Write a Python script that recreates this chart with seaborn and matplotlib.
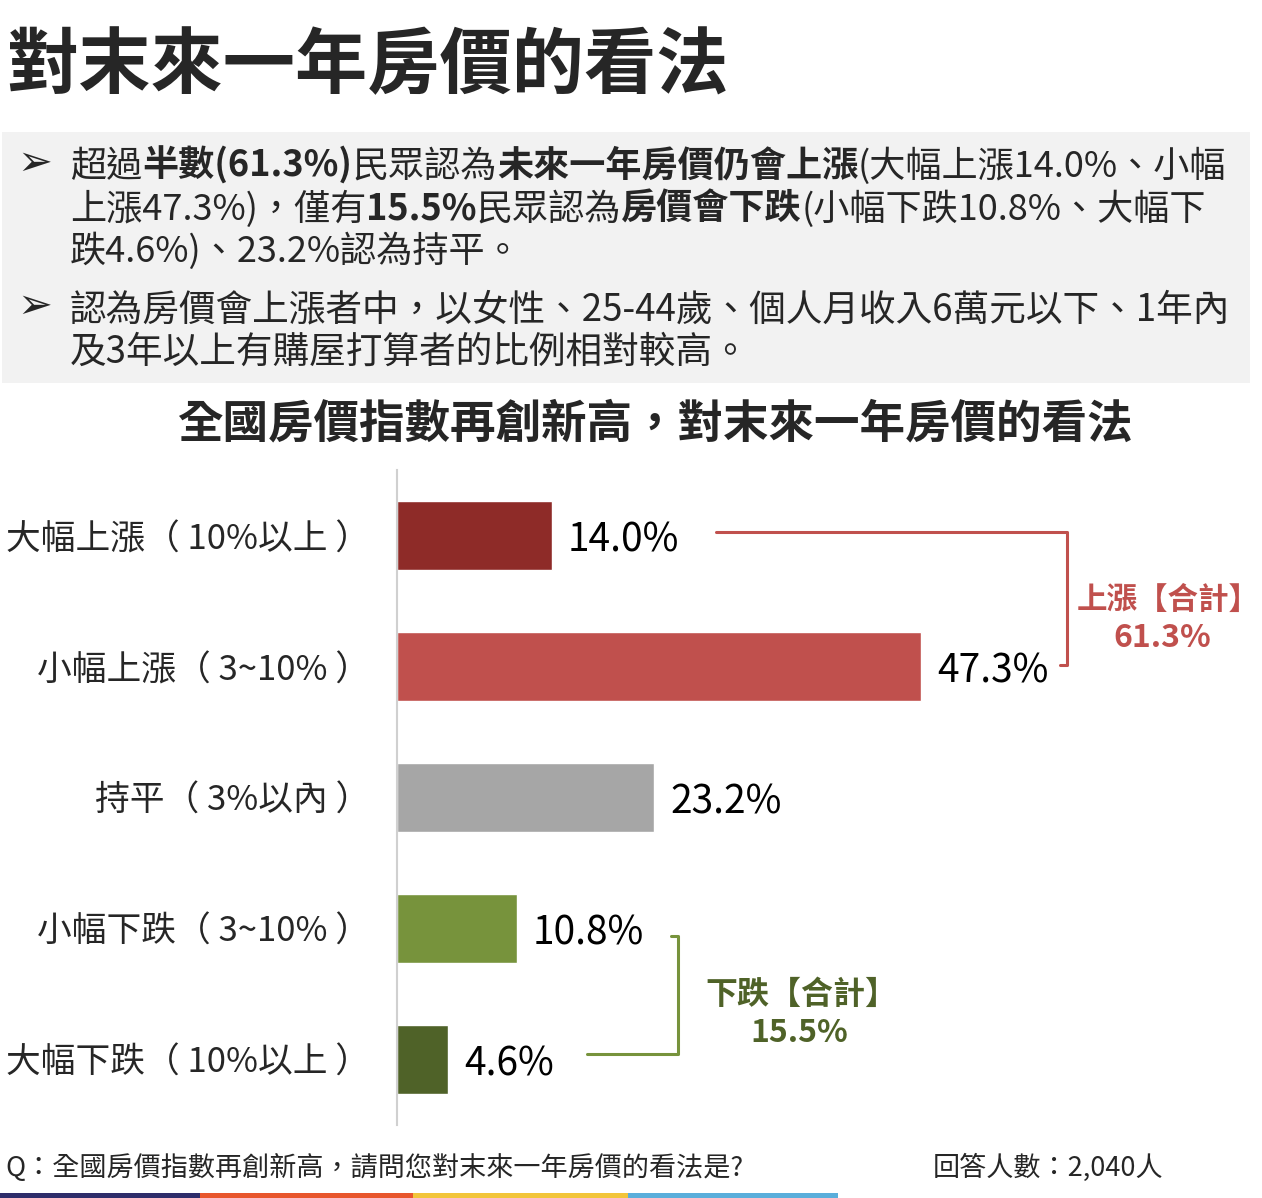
import numpy as np
import pandas as pd
import matplotlib
matplotlib.use('Agg')
import matplotlib.pyplot as plt
from matplotlib.patches import Rectangle
import seaborn as sns

# data
categories = ['大幅上漲（ 10%以上 ）', '小幅上漲（ 3~10% ）', '持平（ 3%以內 ）', '小幅下跌（ 3~10% ）', '大幅下跌（ 10%以上 ）']
values = [14.0, 47.3, 23.2, 10.8, 4.6]
bar_colors = ['#8E2B28', '#C0504D', '#A6A6A6', '#77933C', '#4F6228']
rise_total = 61.3
fall_total = 15.5
n_resp = '2,040'

sns.set_style('white')
plt.rcParams['font.family'] = ['Noto Sans CJK TC', 'DejaVu Sans']

W, H = 1262, 1198
fig = plt.figure(figsize=(W / 100, H / 100), dpi=100)
fig.patch.set_facecolor('white')

def fx(x):
    return x / W

def fy(y):
    return 1 - y / H

# title
fig.text(fx(6), fy(88), '對末來一年房價的看法', fontsize=52, fontweight='bold', va='baseline', ha='left')

# grey summary box
fig.patches.append(Rectangle((fx(2), fy(383)), fx(1248), (383 - 132) / H, transform=fig.transFigure,
                             facecolor='#F2F2F2', edgecolor='none', zorder=0))

renderer = fig.canvas.get_renderer()

def rich_line(x, y, pieces, size=26):
    # draw text pieces of mixed weight on one baseline
    for txt, bold in pieces:
        t = fig.text(fx(x), fy(y), txt, fontsize=size, fontweight='bold' if bold else 'normal',
                     va='baseline', ha='left')
        x += t.get_window_extent(renderer).width

bullet_lines = [
    [('超過', False), ('半數(61.3%)', True), ('民眾認為', False), ('未來一年房價仍會上漲', True), ('(大幅上漲14.0%、小幅', False)],
    [('上漲47.3%)，僅有', False), ('15.5%', True), ('民眾認為', False), ('房價會下跌', True), ('(小幅下跌10.8%、大幅下', False)],
    [('跌4.6%)、23.2%認為持平。', False)],
    [('認為房價會上漲者中，以女性、25-44歲、個人月收入6萬元以下、1年內', False)],
    [('及3年以上有購屋打算者的比例相對較高。', False)],
]
baselines = [177, 220, 262, 320, 363]
sizes = [26, 26, 26, 26.4, 26.4]
for pieces, yb, sz in zip(bullet_lines, baselines, sizes):
    rich_line(70, yb, pieces, sz)
for yb in [175, 318]:
    fig.text(fx(17), fy(yb), '➢', fontsize=30, va='baseline', ha='left', family=['DejaVu Sans'])

# chart subtitle
fig.text(fx(655), fy(424), '全國房價指數再創新高，對末來一年房價的看法', fontsize=32.8, fontweight='bold',
         ha='center', va='center')

# bar chart
df = pd.DataFrame({'category': categories, 'value': values})
ax = fig.add_axes([fx(397), fy(1125), fx(865), 655 / H])
sns.barplot(data=df, y='category', x='value', hue='category', palette=bar_colors, order=categories,
            hue_order=categories, orient='h', width=0.52, ax=ax, legend=False, saturation=1)
ax.set_xlim(0, 78.1)
ax.set_ylim(4.5, -0.5)
ax.set_xlabel('')
ax.set_ylabel('')
ax.set_xticks([])
for s in ['top', 'right', 'bottom']:
    ax.spines[s].set_visible(False)
ax.spines['left'].set_color('#D0D0D0')
ax.spines['left'].set_linewidth(1.5)
ax.tick_params(axis='y', length=0, pad=19.5, labelsize=25)
ax.patch.set_alpha(0)

for i, v in enumerate(values):
    ax.text(v + 1.45, i + 0.035, f'{v:.1f}%', fontsize=28, va='center', ha='left', color='black')

# group brackets
red = '#C0504D'
green = '#77933C'
xr = max(values[0], values[1]) + 13.2
ax.plot([values[0] + 14.8, xr, xr, xr - 0.6], [-0.03, -0.03, 0.99, 0.99], color=red, lw=2.2,
        solid_joinstyle='round', clip_on=False)
ax.text(69.6, 0.49, '上漲【合計】', color=red, fontsize=22, fontweight='bold', ha='center', va='center')
ax.text(69.1, 0.78, f'{rise_total:.1f}%', color=red, fontsize=23, fontweight='bold', ha='center', va='center')

xg = max(values[3], values[4]) + 14.6
ax.plot([xg - 0.7, xg, xg, values[4] + 12.6], [3.06, 3.06, 3.96, 3.96], color=green, lw=2.2,
        solid_joinstyle='round', clip_on=False)
ax.text(36.5, 3.505, '下跌【合計】', color='#4F6228', fontsize=23, fontweight='bold', ha='center', va='center')
ax.text(36.3, 3.795, f'{fall_total:.1f}%', color='#4F6228', fontsize=23, fontweight='bold', ha='center', va='center')

# footer
fig.text(fx(5), fy(1168), 'Q：全國房價指數再創新高，請問您對末來一年房價的看法是?', fontsize=19.5, va='center', ha='left')
fig.text(fx(933), fy(1168), f'回答人數：{n_resp}人', fontsize=19.5, va='center', ha='left')

# colour strip at the bottom
strip = [(0, 200, '#2E2C6A'), (200, 413, '#E8562C'), (413, 628, '#F2C53A'), (628, 838, '#5AAEDB')]
for x0, x1, c in strip:
    fig.patches.append(Rectangle((fx(x0), 0), fx(x1 - x0), 5 / H, transform=fig.transFigure,
                                 facecolor=c, edgecolor='none'))

fig.savefig('out.png', dpi=100)
